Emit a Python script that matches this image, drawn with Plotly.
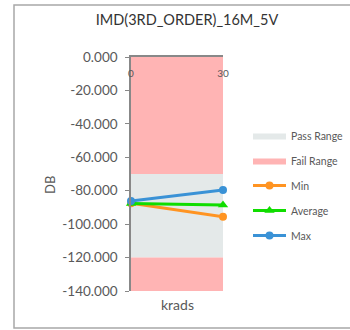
import plotly.graph_objects as go

# ---- data ----
krads = [0, 30]
min_db = [-87.5, -95.6]
avg_db = [-87.6, -88.6]
max_db = [-86.2, -79.6]
pass_upper = [-70, -70]
pass_lower = [-120, -120]
axis_top = [0, 0]
axis_bottom = [-140, -140]
y_ticks = [0, -20, -40, -60, -80, -100, -120, -140]
y_tick_labels = ["0.000", "-20.000", "-40.000", "-60.000", "-80.000", "-100.000", "-120.000", "-140.000"]
x_tick_labels = ["0", "30"]

PINK = "#FFB4B4"
GRAY = "#E4E9E9"
FONT = "Lato"

fig = go.Figure()

# Pass range band
fig.add_trace(go.Scatter(x=krads, y=pass_lower, mode="lines", line=dict(width=0),
                         showlegend=False, hoverinfo="skip"))
fig.add_trace(go.Scatter(x=krads, y=pass_upper, mode="lines", line=dict(width=0),
                         fill="tonexty", fillcolor=GRAY, name="Pass Range",
                         legendgroup="a_pass", hoverinfo="skip"))
# Fail range (lower part)
fig.add_trace(go.Scatter(x=krads, y=axis_bottom, mode="lines", line=dict(width=0),
                         showlegend=False, hoverinfo="skip"))
fig.add_trace(go.Scatter(x=krads, y=pass_lower, mode="lines", line=dict(width=0),
                         fill="tonexty", fillcolor=PINK, name="Fail Range",
                         legendgroup="b_fail", hoverinfo="skip"))
# Fail range (upper part)
fig.add_trace(go.Scatter(x=krads, y=pass_upper, mode="lines", line=dict(width=0),
                         showlegend=False, hoverinfo="skip"))
fig.add_trace(go.Scatter(x=krads, y=axis_top, mode="lines", line=dict(width=0),
                         fill="tonexty", fillcolor=PINK, name="Fail Range",
                         legendgroup="b_fail", showlegend=False, hoverinfo="skip"))

fig.add_trace(go.Scatter(x=krads, y=min_db, mode="lines+markers", name="Min",
                         line=dict(color="#FF9422", width=3),
                         marker=dict(symbol="circle", size=8, color="#FF9422"),
                         cliponaxis=False, legendgroup="c_min"))
fig.add_trace(go.Scatter(x=krads, y=avg_db, mode="lines+markers", name="Average",
                         line=dict(color="#10DD00", width=3),
                         marker=dict(symbol="triangle-up", size=9, color="#10DD00"),
                         cliponaxis=False, legendgroup="d_avg"))
fig.add_trace(go.Scatter(x=krads, y=max_db, mode="lines+markers", name="Max",
                         line=dict(color="#3A92D6", width=3),
                         marker=dict(symbol="circle", size=8, color="#3A92D6"),
                         cliponaxis=False, legendgroup="e_max"))

# invisible trace carrying the tick-label axis (labels just under the top axis line)
fig.add_trace(go.Scatter(x=krads, y=axis_bottom, xaxis="x2", mode="none",
                         showlegend=False, hoverinfo="skip"))

fig.update_layout(
    width=350, height=330,
    margin=dict(l=131, r=127, t=57, b=39),
    paper_bgcolor="white", plot_bgcolor="white",
    font=dict(family=FONT, color="#595959", size=11),
    title=dict(text="IMD(3RD_ORDER)_16M_5V", xref="container", yref="container",
               x=187 / 350, y=1 - 20 / 330, xanchor="center", yanchor="middle",
               font=dict(family=FONT, size=14.5, color="#333333")),
    legend=dict(xref="container", yref="container", x=248 / 350, y=1 - 121 / 330,
                xanchor="left", yanchor="top", traceorder="grouped", itemwidth=33,
                tracegroupgap=6, font=dict(family=FONT, size=10.5, color="#595959"),
                bgcolor="rgba(0,0,0,0)"),
    showlegend=True,
    xaxis=dict(range=[0, 30], side="top", tickvals=krads, showticklabels=False,
               showgrid=False, zeroline=False, showline=True, linecolor="#888888",
               linewidth=1.5, ticks="inside", ticklen=4, tickcolor="#888888"),
    xaxis2=dict(overlaying="x", anchor="free", side="bottom", position=(291 - 66) / 234,
                range=[0, 30], tickvals=krads, ticktext=x_tick_labels, showgrid=False,
                zeroline=False, showline=False, ticks="", tickfont=dict(size=10, color="#595959")),
    yaxis=dict(range=[-140, 0], tickvals=y_ticks, ticktext=y_tick_labels,
               showgrid=False, zeroline=False, showline=True, linecolor="#888888",
               linewidth=1.5, ticks="outside", ticklen=4, tickcolor="#888888",
               ticklabelstandoff=5, tickfont=dict(size=13.5, color="#595959")),
)

fig.add_annotation(text="DB", xref="paper", yref="paper", x=(50 - 131) / 92, y=(291 - 185) / 234,
                   showarrow=False, textangle=-90, font=dict(family=FONT, size=13, color="#595959"),
                   xanchor="center", yanchor="middle")
fig.add_annotation(text="krads", xref="paper", yref="paper", x=(177 - 131) / 92, y=0,
                   yshift=-13, showarrow=False, font=dict(family=FONT, size=14, color="#595959"),
                   xanchor="center", yanchor="middle")

# outer chart border
fig.add_shape(type="rect", xref="paper", yref="paper",
              x0=(14 - 131) / 92, x1=(360 - 131) / 92,
              y0=(291 - 328) / 234, y1=(291 - 5) / 234,
              line=dict(color="#A8A8A8", width=1.5), fillcolor="rgba(0,0,0,0)", layer="below")

fig.write_html("out.html", config={"displayModeBar": False},
               post_script="document.body.style.margin='0';")
